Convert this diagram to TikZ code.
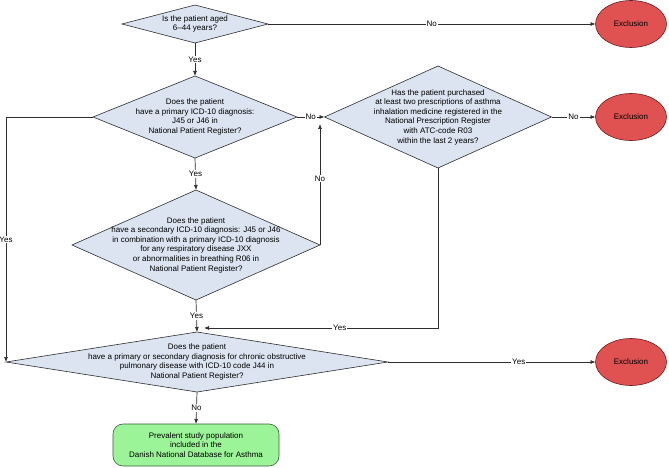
\documentclass[tikz,border=0pt]{standalone}
\usepackage{fontspec}
\setmainfont{Liberation Sans}
\usetikzlibrary{shapes.geometric,arrows.meta,calc}
\definecolor{diafill}{RGB}{219,228,240}
\definecolor{exfill}{RGB}{224,82,82}
\definecolor{exdraw}{RGB}{110,30,30}
\definecolor{boxfill}{RGB}{155,245,152}
\definecolor{boxdraw}{RGB}{60,90,60}
\definecolor{linec}{RGB}{45,45,45}
\begin{document}
\begin{tikzpicture}[x=1pt,y=-1pt, font=\fontsize{8}{9.6}\selectfont,
 dia/.style={diamond, draw=linec, fill=diafill, inner sep=0pt, outer sep=0pt, line width=0.6pt},
 txt/.style={align=center, inner sep=0pt},
 excl/.style={ellipse, draw=exdraw, fill=exfill, line width=0.6pt, minimum width=71pt, minimum height=47pt, inner sep=0pt, outer sep=0pt},
 res/.style={rounded corners=10pt, draw=boxdraw, fill=boxfill, line width=0.6pt, minimum width=166pt, minimum height=42pt, align=center, inner sep=0pt, outer sep=0pt},
 arr/.style={draw=linec, line width=0.7pt, -{Latex[length=5pt,width=4pt]}},
 lbl/.style={fill=white, inner sep=1pt}]
\useasboundingbox (0,0) rectangle (669,468);

% decision diamonds
\node[dia, minimum width=146pt, minimum height=38pt] (d1) at (195,24) {};
\node[txt] (d1t) at (d1) {Is the patient aged\\6--44 years?};

\node[dia, minimum width=204pt, minimum height=82pt] (d2) at (195,117) {};
\node[txt] (d2t) at (d2) {Does the patient\\have a primary ICD-10 diagnosis:\\J45 or J46 in\\National Patient Register?};

\node[dia, minimum width=248pt, minimum height=110pt] (d3) at (196,245) {};
\node[txt] (d3t) at (d3) {Does the patient\\have a secondary ICD-10 diagnosis: J45 or J46\\in combination with a primary ICD-10 diagnosis\\for any respiratory disease JXX\\or abnormalities in breathing R06 in\\National Patient Register?};

\node[dia, minimum width=227pt, minimum height=102pt] (d4) at (438,117) {};
\node[txt] (d4t) at (d4) {Has the patient purchased\\at least two prescriptions of asthma\\inhalation medicine registered in the\\National Prescription Register\\with ATC-code R03\\within the last 2 years?};

\node[dia, minimum width=382pt, minimum height=60pt] (d5) at (197,362) {};
\node[txt] (d5t) at (d5) {Does the patient\\have a primary or secondary diagnosis for chronic obstructive\\pulmonary disease with ICD-10 code J44 in\\National Patient Register?};

% exclusions
\node[excl] (ex1) at (631,24) {Exclusion};
\node[excl] (ex2) at (631,117) {Exclusion};
\node[excl] (ex3) at (631,362) {Exclusion};

% result
\node[res] (box) at (196,445) {Prevalent study population\\included in the\\Danish National Database for Asthma};

% junction points
\coordinate (j1) at (320,124);
\coordinate (j2) at (204,328);

% connectors
\draw[arr] (d1.east) -- node[lbl]{No} (ex1.west);
\draw[arr] (d1.south) -- node[lbl]{Yes} (d2.north);
\draw[arr] (d2.east) -- node[lbl]{No} (d4.west);
\draw[arr] (d2.south) -- node[lbl]{Yes} (d3.north);
\draw[arr] (d3.east) -- node[lbl, pos=0.55]{No} (d3.east |- j1);
\draw[arr] (d2.west) -| node[lbl, pos=0.75]{Yes} (d5.west);
\draw[arr] (d3.south) -- node[lbl]{Yes} (d5.north);
\draw[arr] (d4.south) |- node[lbl, pos=0.71]{Yes} (j2);
\draw[arr] (d4.east) -- node[lbl]{No} (ex2.west);
\draw[arr] (d5.east) -- node[lbl, pos=0.63]{Yes} (ex3.west);
\draw[arr] (d5.south) -- node[lbl]{No} (box.north);
\end{tikzpicture}
\end{document}
